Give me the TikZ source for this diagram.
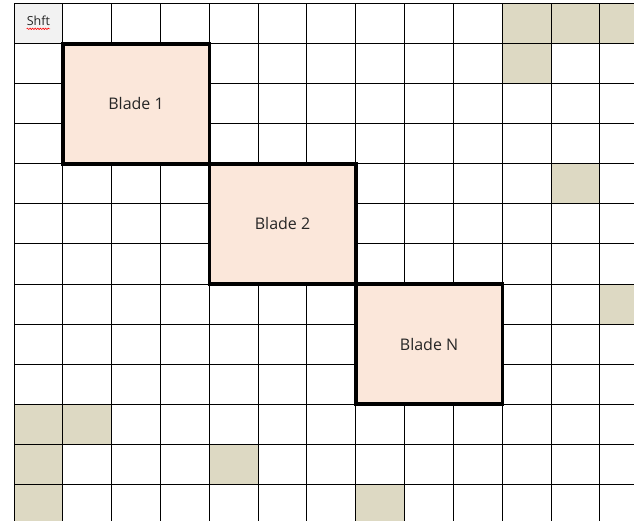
\documentclass[tikz,border=0pt]{standalone}
\usepackage{fontspec}
\setmainfont{Open Sans}
\usetikzlibrary{decorations.pathmorphing}
\definecolor{tan}{HTML}{DDD9C3}
\definecolor{peach}{HTML}{FBE7DA}
\definecolor{shftgray}{HTML}{F2F2F2}
\definecolor{txt}{HTML}{262626}
\tikzset{
  tancell/.style={fill=tan},
  gridline/.style={draw=black, line width=1pt},
  blade/.style={draw=black, line width=3.5pt, fill=peach, text=txt,
    font=\fontsize{16}{18}\selectfont, minimum width=146.5pt, minimum height=120pt, inner sep=0pt},
  shftlabel/.style={text=txt, font=\fontsize{12.5}{14}\selectfont, inner sep=0pt},
  squiggle/.style={draw=red, line width=0.6pt, decorate,
    decoration={snake, amplitude=0.7pt, segment length=2.6pt}}
}
\begin{document}
\begin{tikzpicture}[x=1pt,y=1pt]
\useasboundingbox[fill=white] (0,0) rectangle (634,-521);
\begin{scope}[shift={(14,-4)}, x=48.83pt, y=-40pt]
  % shaded cells
  \fill[shftgray] (0,0) rectangle (1,1);
  \foreach \c/\r in {10/0, 11/0, 10/1, 11/4, 0/10, 1/10, 0/11, 4/11, 0/12, 7/12}
    \fill[tan] (\c,\r) rectangle ({\c+1},{\r+1});
  \fill[tan] (12,0) rectangle (12.697,1);
  \fill[tan] (12,7) rectangle (12.697,8);
  \fill[tan] (0,12) rectangle (1,12.925);
  \fill[tan] (7,12) rectangle (8,12.925);
  % grid
  \foreach \c in {0,...,12}
    \draw[gridline] (\c,0) -- (\c,12.925);
  \foreach \r in {0,...,12}
    \draw[gridline] (0,\r) -- (12.697,\r);
  % Shft label
  \node[shftlabel] (shft) at (0.5,0.42) {Shft};
  \coordinate (sqa) at ([yshift=-3pt]shft.south west);
  \coordinate (sqb) at ([yshift=-3pt]shft.south east);
  \draw[squiggle] (sqa) -- (sqb);
  % blades
  \node[blade] (b1) at (2.5,2.5) {Blade 1};
  \node[blade] (b2) at (5.5,5.5) {Blade 2};
  \node[blade] (bn) at (8.5,8.5) {Blade N};
\end{scope}
\end{tikzpicture}
\end{document}
